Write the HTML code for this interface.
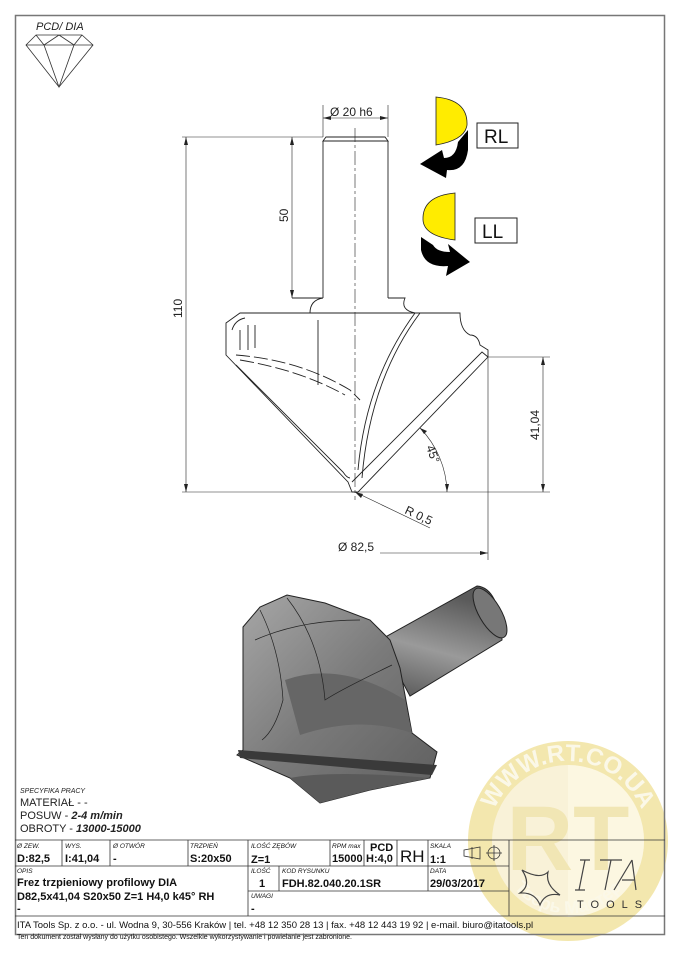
<!DOCTYPE html>
<html><head><meta charset="utf-8"><style>
body{margin:0;background:#fff;}
svg{display:block;font-family:"Liberation Sans",sans-serif;}
</style></head><body>
<svg width="679" height="960" viewBox="0 0 679 960" xmlns="http://www.w3.org/2000/svg">
<!-- watermark -->
<defs><path id="arcT" d="M488,841 A80,80 0 0 1 648,841"/><path id="arcB" d="M500,860 A70,70 0 0 0 636,860"/></defs>
<g opacity="0.85">
<circle cx="568" cy="841" r="100" fill="#f1e3a0"/>
<circle cx="568" cy="841" r="76" fill="#f8f0d2"/>
<path d="M568,765 A76,76 0 0 1 568,917 Z" fill="#fcf6dc"/>
<text font-size="24" font-weight="bold" fill="#fbf7e4"><textPath href="#arcT" startOffset="50%" text-anchor="middle">WWW.RT.CO.UA</textPath></text>
<text x="568" y="870" font-size="92" font-weight="bold" fill="#efe2a8" text-anchor="middle">RT</text>
<text font-size="18" font-weight="bold" fill="#fbf7e4"><textPath href="#arcB" startOffset="50%" text-anchor="middle">Тверь Мастер</textPath></text>
</g>

<!-- frame -->
<rect x="15.5" y="15.5" width="649" height="919" fill="none" stroke="#777" stroke-width="1.5"/>

<!-- diamond -->
<text x="36" y="30" font-size="11" font-style="italic" fill="#222">PCD/ DIA</text>
<g fill="none" stroke="#333" stroke-width="0.8">
<path d="M36,35 L82,35 L93,45 L59,87 L26,45 Z M26,45 L93,45 M36,35 L44,45 L59,87 L74,45 L82,35 M59,35 L44,45 M59,35 L74,45"/>
</g>

<!-- technical drawing -->
<g stroke="#222" stroke-width="0.9" fill="none">
<path d="M323,141 L326,137 L385,137 L388,141 Z" />
<line x1="323" y1="141" x2="323" y2="298"/><line x1="388" y1="141" x2="388" y2="298"/>
<path d="M292,298 L323,298 M388,298 L405,298 Q400,310 415,313 M310,313 Q310,300 323,298 M290,313 L310,313"/>
<path d="M240,313 L460,313 Q460,330 470,335 Q478,335 480,345 L488,350 L488,357 L358,492 L352,492 L348,482 L226,355 L226,323 L240,313 Z"/>
<path d="M488,357 L482,352 L352,482"/>
<path d="M420,313 Q370,380 362,478 M415,313 Q366,380 358,470"/>
<path d="M245,318 Q235,320 232,330 M240,330 L240,350 M248,325 L248,350 M255,325 L255,348"/>
<path d="M236,355 Q300,360 350,390 L360,400 M240,360 Q300,370 345,395" stroke-dasharray="14,4"/>
<path d="M236,365 L343,472 Q347,478 350,478"/>
<line x1="318" y1="320" x2="318" y2="385"/>
<line x1="355" y1="128" x2="355" y2="500" stroke-dasharray="14,3,3,3" stroke-width="0.6"/>
<g stroke-width="0.6">
<line x1="182" y1="137" x2="323" y2="137"/><line x1="182" y1="492" x2="355" y2="492"/>
<line x1="186" y1="137" x2="186" y2="492"/>
<line x1="292" y1="137" x2="292" y2="298"/>
<line x1="323" y1="105" x2="323" y2="137"/><line x1="388" y1="105" x2="388" y2="137"/>
<line x1="323" y1="118" x2="388" y2="118"/>
<line x1="488" y1="357" x2="550" y2="357"/><line x1="543" y1="357" x2="543" y2="492"/>
<line x1="355" y1="492" x2="550" y2="492"/>
<line x1="488" y1="357" x2="488" y2="560"/>
<line x1="380" y1="553" x2="488" y2="553"/>
<line x1="355" y1="492" x2="430" y2="528"/>
<path d="M420,428 A95,95 0 0 1 447,492"/>
</g>
</g>
<g fill="#222">
<path d="M186,137 l-2,8 h4z M186,492 l-2,-8 h4z M292,137 l-2,8 h4z M292,298 l-2,-8 h4z M323,118 l8,-2 v4z M388,118 l-8,-2 v4z M543,357 l-2,8 h4z M543,492 l-2,-8 h4z M488,553 l-8,-2 v4z M355,492 l8,2 l-2,4z M447,492 l-2,-8 h4z M420,428 l7,3 l-3,3z"/>
</g>
<g font-size="12" fill="#222">
<text x="330" y="116">Ø 20 h6</text>
<text x="338" y="551">Ø 82,5</text>
<text transform="translate(182,318) rotate(-90)">110</text>
<text transform="translate(288,222) rotate(-90)">50</text>
<text transform="translate(539,440) rotate(-90)">41,04</text>
<text transform="translate(404,513) rotate(25)">R 0,5</text>
<text transform="translate(426,447) rotate(70)">45°</text>
</g>

<!-- RL / LL icons -->
<path d="M436,97 Q468,100 467,125 Q465,140 436,145 Z" fill="#ffec00" stroke="#222" stroke-width="0.8"/>
<path d="M458,142 L468,130 L468,150 Q465,172 447,170 L446,178 L420,164 L442,150 L444,158 Q456,158 458,142Z" fill="#000"/>
<rect x="477" y="123" width="41" height="25" fill="#fff" stroke="#222"/>
<text x="484" y="143" font-size="19" fill="#111">RL</text>
<path d="M455,193 Q422,196 423,220 Q424,236 455,240 Z" fill="#ffec00" stroke="#222" stroke-width="0.8"/>
<path d="M421,237 L433,245 Q437,252 450,252 L448,244 L470,262 L446,276 L448,266 Q425,268 421,250Z" fill="#000"/>
<rect x="475" y="218" width="42" height="25" fill="#fff" stroke="#222"/>
<text x="482" y="238" font-size="19" fill="#111">LL</text>

<!-- 3D render -->
<defs>
<linearGradient id="sh" x1="0" y1="1" x2="0.3" y2="0"><stop offset="0" stop-color="#555"/><stop offset="0.5" stop-color="#9a9a9a"/><stop offset="1" stop-color="#5a5a5a"/></linearGradient>
<linearGradient id="bd" x1="0" y1="0" x2="1" y2="1"><stop offset="0" stop-color="#a8a8a8"/><stop offset="0.5" stop-color="#7a7a7a"/><stop offset="1" stop-color="#5e5e5e"/></linearGradient>
</defs>
<path d="M380,640 L477,586 Q500,588 502,640 L410,696 Z" fill="url(#sh)" stroke="#222"/>
<ellipse cx="490" cy="613" rx="11" ry="28" transform="rotate(-30 490 613)" fill="#777" stroke="#222"/>
<path d="M243,627 L260,607 L287,595 L325,603 L370,620 L390,640 L400,668 L412,733 L437,752 L430,778 L370,790 L320,803 L290,778 L237,755 L243,750 Z" fill="url(#bd)" stroke="#222"/>
<path d="M285,680 Q340,660 405,700 L412,733 Q360,715 300,735 Z" fill="#666"/>
<path d="M238,750 L437,765 L432,775 L240,758Z" fill="#3a3a3a"/>
<path d="M290,778 Q330,770 430,778 L370,790 L320,803Z" fill="#5a5a5a"/>
<g fill="none" stroke="#222" stroke-width="0.7">
<path d="M260,610 Q280,650 283,700 Q275,730 262,740"/><path d="M287,598 Q320,640 325,700 Q340,690 392,665"/>
<path d="M255,640 Q300,620 360,620"/>
</g>

<!-- spec -->
<g fill="#222">
<text x="20" y="793" font-size="7" font-style="italic">SPECYFIKA PRACY</text>
<text x="20" y="806" font-size="11">MATERIAŁ - -</text>
<text x="20" y="819" font-size="11">POSUW - <tspan font-weight="bold" font-style="italic">2-4 m/min</tspan></text>
<text x="20" y="832" font-size="11">OBROTY - <tspan font-weight="bold" font-style="italic">13000-15000</tspan></text>
</g>

<!-- table -->
<g stroke="#333" stroke-width="0.8" fill="none">
<line x1="15" y1="840" x2="665" y2="840"/>
<line x1="15" y1="866" x2="509" y2="866"/>
<line x1="15" y1="916" x2="665" y2="916"/>
<line x1="248" y1="891" x2="509" y2="891"/>
<line x1="62" y1="840" x2="62" y2="866"/><line x1="110" y1="840" x2="110" y2="866"/>
<line x1="188" y1="840" x2="188" y2="866"/><line x1="248" y1="840" x2="248" y2="916"/>
<line x1="330" y1="840" x2="330" y2="866"/><line x1="364" y1="840" x2="364" y2="866"/>
<line x1="397" y1="840" x2="397" y2="866"/><line x1="428" y1="840" x2="428" y2="891"/>
<line x1="279" y1="866" x2="279" y2="891"/>
<line x1="509" y1="840" x2="509" y2="916"/>
</g>
<g fill="#111">
<g font-size="6.5" font-style="italic">
<text x="17" y="848">Ø ZEW.</text><text x="65" y="848">WYS.</text><text x="113" y="848">Ø OTWÓR</text>
<text x="190" y="848">TRZPIEŃ</text><text x="251" y="848">ILOŚĆ ZĘBÓW</text><text x="332" y="848">RPM max</text>
<text x="430" y="848">SKALA</text><text x="17" y="873">OPIS</text><text x="251" y="873">ILOŚĆ</text>
<text x="282" y="873">KOD RYSUNKU</text><text x="430" y="873">DATA</text><text x="251" y="898">UWAGI</text>
</g>
<g font-size="11" font-weight="bold">
<text x="17" y="862">D:82,5</text><text x="65" y="862">I:41,04</text><text x="113" y="862">-</text>
<text x="190" y="862">S:20x50</text><text x="251" y="863">Z=1</text><text x="332" y="862">15000</text>
<text x="366" y="862">H:4,0</text><text x="370" y="851">PCD</text><text x="430" y="863">1:1</text>
<text x="17" y="886">Frez trzpieniowy profilowy DIA</text>
<text x="17" y="900">D82,5x41,04 S20x50 Z=1 H4,0 k45° RH</text>
<text x="17" y="912">-</text>
<text x="259" y="887">1</text><text x="282" y="887">FDH.82.040.20.1SR</text>
<text x="430" y="887">29/03/2017</text><text x="251" y="912">-</text>
</g>
<text x="400" y="862" font-size="17">RH</text>
<text x="17" y="928" font-size="9.5">ITA Tools Sp. z o.o. - ul. Wodna 9, 30-556 Kraków | tel. +48 12 350 28 13 | fax. +48 12 443 19 92 | e-mail. biuro@itatools.pl</text>
<text x="17" y="939" font-size="7">Ten dokument został wysłany do użytku osobistego. Wszelkie wykorzystywanie i powielanie jest zabronione.</text>
</g>
<g fill="none" stroke="#333" stroke-width="0.8">
<path d="M464,850 L480,847 L480,859 L464,856 Z M472,847 v12"/>
<circle cx="494" cy="853" r="6"/><path d="M486,853 h16 M494,845 v16"/>
</g>
<g fill="none" stroke="#444" stroke-width="1.2">
<path d="M522,870 Q540,880 548,872 Q545,885 560,895 Q545,892 540,905 Q535,892 520,893 Q532,885 522,870Z"/>
<path d="M580,860 h10 M585,860 l-6,30 M575,890 h10 M600,860 h22 M611,860 l-6,30 M632,860 l-18,30 M632,860 l4,30 M622,880 h12"/>
</g>
<text x="577" y="908" font-size="11" fill="#333" letter-spacing="7">TOOLS</text>
</svg>
</body></html>
